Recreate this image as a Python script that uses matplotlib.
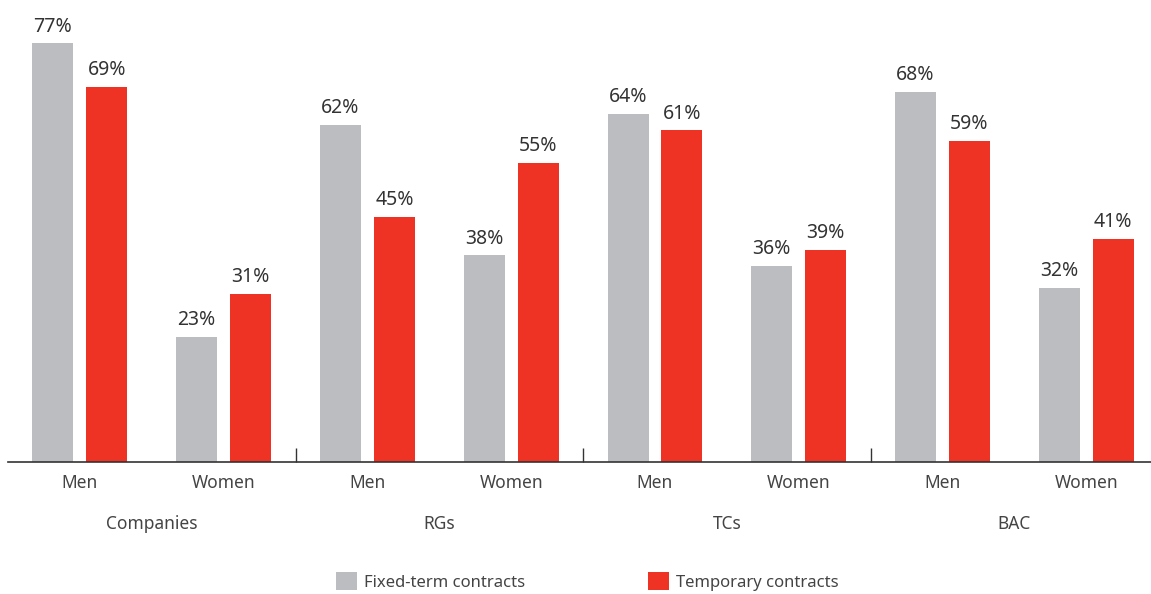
import matplotlib.pyplot as plt
import numpy as np

groups = ['Companies', 'RGs', 'TCs', 'BAC']
sexes = ['Men', 'Women']
fixed_term = [77, 23, 62, 38, 64, 36, 68, 32]
temporary = [69, 31, 45, 55, 61, 39, 59, 41]

GRAY = '#bcbdc0'
RED = '#ee3224'
TEXT = '#333333'

plt.rcParams['font.family'] = ['Noto Sans', 'DejaVu Sans']

fig = plt.figure(figsize=(11.51, 5.94), dpi=100)
ax = fig.add_axes([8 / 1151, 132 / 594, 1 - 8 / 1151, 462 / 594])

x = np.arange(len(fixed_term))
w = 0.285
off = 0.1875

b1 = ax.bar(x - off, fixed_term, w, color=GRAY, label='Fixed-term contracts')
b2 = ax.bar(x + off, temporary, w, color=RED, label='Temporary contracts')

for bars, vals in ((b1, fixed_term), (b2, temporary)):
    for b, v in zip(bars, vals):
        ax.annotate(f'{v}%', (b.get_x() + b.get_width() / 2, v),
                    xytext=(0, 5), textcoords='offset points',
                    ha='center', va='bottom', fontsize=14, color=TEXT)

ax.set_xlim(-0.5, 7.45)
ax.set_ylim(0, 85)

for s in ['top', 'right', 'left']:
    ax.spines[s].set_visible(False)
ax.spines['bottom'].set_color('#333333')
ax.spines['bottom'].set_linewidth(1.2)
ax.set_yticks([])

ax.set_xticks(x)
ax.set_xticklabels(sexes * len(groups), fontsize=12.5, color='#444444')
ax.tick_params(axis='x', length=0, pad=9)

# group separators
ax.set_xticks([1.5, 3.5, 5.5], minor=True)
ax.tick_params(axis='x', which='minor', direction='in', length=10, width=1, color='#333333')

for i, g in enumerate(groups):
    ax.text(2 * i + 0.5, -0.135, g, transform=ax.get_xaxis_transform(),
            ha='center', va='center', fontsize=12.5, color='#444444')

fig.legend(handles=[b1, b2], loc='center', bbox_to_anchor=(0.5105, 0.021),
           ncol=2, frameon=False, fontsize=12, handlelength=1.26, handleheight=1.26,
           handletextpad=0.42, columnspacing=7.35, labelcolor='#444444')

fig.savefig('out.png', dpi=100)
